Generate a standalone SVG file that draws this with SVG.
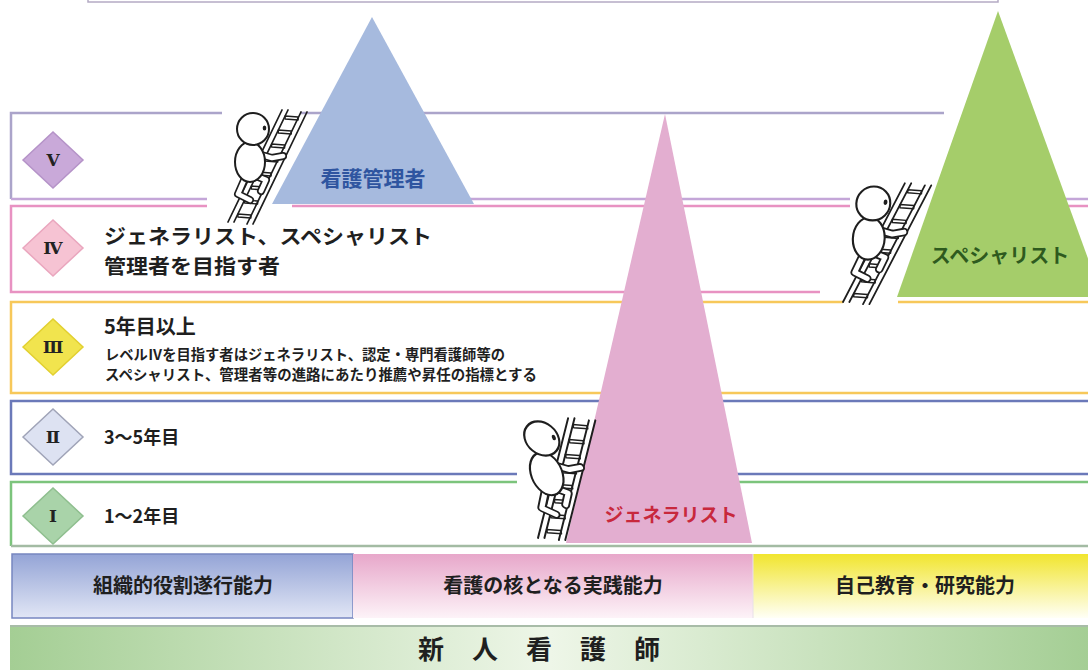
<svg xmlns="http://www.w3.org/2000/svg" width="1088" height="670" viewBox="0 0 1088 670">
  <defs>
    <style>
      .jp{font-family:"Noto Sans CJK JP","Noto Sans CJK SC",sans-serif;font-weight:700;fill:#1f1f1f}
      .rn{font-family:"DejaVu Serif","Liberation Serif","Noto Sans CJK JP",serif;font-weight:700;font-size:17px;fill:#222;text-anchor:middle}
      .mask{fill:#fff}
      .rail{stroke:#1e1e1e;stroke-width:1.7;fill:none;stroke-linecap:round}
      .rung{fill:#fff;stroke:#1e1e1e;stroke-width:1.4;stroke-linejoin:round}
      .limb-o{stroke:#1e1e1e;stroke-width:8;fill:none;stroke-linecap:round;stroke-linejoin:round}
      .limb-i{stroke:#fff;stroke-width:4.6;fill:none;stroke-linecap:round;stroke-linejoin:round}
      .solid{fill:#fff;stroke:#1e1e1e;stroke-width:2}
      .mid{text-anchor:middle}
    </style>
    <linearGradient id="gBlue" x1="0" y1="0" x2="0" y2="1">
      <stop offset="0" stop-color="#94a4d6"/>
      <stop offset="1" stop-color="#e1e6f5"/>
    </linearGradient>
    <linearGradient id="gPink" x1="0" y1="0" x2="0" y2="1">
      <stop offset="0" stop-color="#e7a7ca"/>
      <stop offset="1" stop-color="#fdf3f8"/>
    </linearGradient>
    <linearGradient id="gYellow" x1="0" y1="0" x2="0" y2="1">
      <stop offset="0" stop-color="#f1e52e"/>
      <stop offset="1" stop-color="#fffff6"/>
    </linearGradient>
    <linearGradient id="gGreen" x1="0" y1="0" x2="1" y2="0">
      <stop offset="0" stop-color="#a4ce94"/>
      <stop offset="0.5" stop-color="#eef6e8"/>
      <stop offset="1" stop-color="#a4ce94"/>
    </linearGradient>

    <!-- a figure climbing a ladder; origin = foot of the ladder -->
    <g id="climber">
      <!-- rungs -->
      <polygon class="rung" points="9.9,-8 22.9,-7 22.9,-4 9.9,-5"/>
      <polygon class="rung" points="16.6,-22 29.6,-21 29.6,-18 16.6,-19"/>
      <polygon class="rung" points="23.4,-36 36.4,-35 36.4,-32 23.4,-33"/>
      <polygon class="rung" points="30.1,-50 43.1,-49 43.1,-46 30.1,-47"/>
      <polygon class="rung" points="36.8,-64 49.8,-63 49.8,-60 36.8,-61"/>
      <polygon class="rung" points="43.6,-78 56.6,-77 56.6,-74 43.6,-75"/>
      <polygon class="rung" points="50.3,-92 63.3,-91 63.3,-88 50.3,-89"/>
      <polygon class="rung" points="57.1,-106 70.1,-105 70.1,-102 57.1,-103"/>
      <!-- rails -->
      <path class="rail" d="M0,0 L54,-112 M6,0 L60,-112 M19,2 L73,-110 M25,2 L79,-110"/>
      <!-- limbs -->
      <path class="limb-o" d="M17,-44 L10,-28 L22,-22 M28,-46 L38,-42 L33,-31 M30,-68 L44,-64 L55,-66"/>
      <path class="limb-i" d="M17,-44 L10,-28 L22,-22 M28,-46 L38,-42 L33,-31 M30,-68 L44,-64 L55,-66"/>
      <!-- body and head -->
      <ellipse class="solid" cx="22" cy="-60" rx="15" ry="20"/>
      <circle class="solid" cx="25" cy="-93" r="16"/>
      <ellipse cx="36.5" cy="-94" rx="1.8" ry="2.6" fill="#1e1e1e"/>
    </g>
  </defs>

  <rect width="1088" height="670" fill="#fff"/>

  <!-- frame above the chart -->
  <rect x="88" y="-10" width="910" height="12" fill="none" stroke="#b4aac4" stroke-width="1.5"/>

  <!-- level bands -->
  <g id="band-5">
    <path d="M944,113 H11 V199" fill="none" stroke="#aba4ca" stroke-width="2.5"/>
    <path d="M11,199 H1090" fill="none" stroke="#c4a6d8" stroke-width="2.5"/>
  </g>
  <g id="band-4">
    <rect x="11" y="206" width="1090" height="86" fill="none" stroke="#e892c2" stroke-width="2.5"/>
  </g>
  <g id="band-3">
    <rect x="11" y="302" width="1090" height="91" fill="none" stroke="#f7c85a" stroke-width="2.5"/>
  </g>
  <g id="band-2">
    <rect x="11" y="401" width="1090" height="73" fill="none" stroke="#6b79b9" stroke-width="2.5"/>
  </g>
  <g id="band-1">
    <path d="M1090,482 H11 V546" fill="none" stroke="#7cc47c" stroke-width="2.5"/>
    <path d="M11,546 H1090" fill="none" stroke="#a3bba3" stroke-width="2.5"/>
  </g>

  <!-- clear space around the climbers -->
  <polygon class="mask" points="227,104 300,104 300,190 292,190 292,214 207,214 207,190 222,190 222,104"/>
  <polygon class="mask" points="850,186 940,186 940,297 898,297 898,306 843,306 843,297 820,297 820,287 850,287"/>
  <rect class="mask" x="517" y="468" width="68" height="20"/>

  <!-- career peaks -->
  <g id="peak-manager">
    <polygon points="372,17 272,204 474,204" fill="#a6bade"/>
    <text class="jp mid" x="373" y="186" font-size="21" style="fill:#2f55a0">看護管理者</text>
  </g>
  <g id="peak-generalist">
    <polygon points="665,114 566,543 752,543" fill="#e3aed0"/>
    <text class="jp mid" x="671" y="522" font-size="19" style="fill:#c8283c">ジェネラリスト</text>
  </g>
  <g id="peak-specialist">
    <polygon points="998,11 897,297 1102,297" fill="#a5cd6a"/>
    <text class="jp mid" x="1000" y="263" font-size="20" style="fill:#2e5a1e">スペシャリスト</text>
  </g>

  <!-- climbers -->
  <g id="climber-manager"><use href="#climber" transform="translate(228,222)"/></g>
  <g id="climber-specialist"><use href="#climber" transform="translate(843,302) skewX(-2.2) scale(1.06)"/></g>
  <g id="climber-generalist"><use href="#climber" transform="translate(538,538) scale(1.07) skewX(13)"/></g>

  <!-- level markers -->
  <g id="level-5">
    <polygon points="23,160 53,132 83,160 53,188" fill="#c9a9d9" stroke="#b593c8" stroke-width="1.5"/>
    <text class="rn" x="53" y="166">V</text>
  </g>
  <g id="level-4">
    <polygon points="23,248 53,220 83,248 53,276" fill="#f6c3d3" stroke="#eaa6be" stroke-width="1.5"/>
    <text class="rn" x="53" y="254">Ⅳ</text>
    <text class="jp" x="104" y="244" font-size="20.5" textLength="328" lengthAdjust="spacingAndGlyphs">ジェネラリスト、スペシャリスト</text>
    <text class="jp" x="104" y="274" font-size="20.5" textLength="176" lengthAdjust="spacingAndGlyphs">管理者を目指す者</text>
  </g>
  <g id="level-3">
    <polygon points="23,347 53,319 83,347 53,375" fill="#f1e44e" stroke="#e2d030" stroke-width="1.5"/>
    <text class="rn" x="53" y="353">Ⅲ</text>
    <text class="jp" x="104" y="334" font-size="20">5年目以上</text>
    <text class="jp" font-size="14.4"><tspan x="105" y="360" textLength="400" lengthAdjust="spacingAndGlyphs">レベルⅣを目指す者はジェネラリスト、認定・専門看護師等の</tspan><tspan x="105" y="380" textLength="432" lengthAdjust="spacingAndGlyphs">スペシャリスト、管理者等の進路にあたり推薦や昇任の指標とする</tspan></text>
  </g>
  <g id="level-2">
    <polygon points="23,437 53,409 83,437 53,465" fill="#dde2f2" stroke="#a0a4b8" stroke-width="1.5"/>
    <text class="rn" x="53" y="443">Ⅱ</text>
    <text class="jp" x="104" y="444" font-size="18">3〜5年目</text>
  </g>
  <g id="level-1">
    <polygon points="23,516 53,488 83,516 53,544" fill="#a9d3a9" stroke="#8fbf8f" stroke-width="1.5"/>
    <text class="rn" x="53" y="522">Ⅰ</text>
    <text class="jp" x="104" y="523" font-size="18">1〜2年目</text>
  </g>

  <!-- competency areas -->
  <g id="area-organisation">
    <rect x="12" y="554" width="341" height="64" fill="url(#gBlue)" stroke="#7786c0" stroke-width="1.5"/>
    <text class="jp mid" x="183" y="593" font-size="20">組織的役割遂行能力</text>
  </g>
  <g id="area-practice">
    <rect x="353" y="554" width="400" height="64" fill="url(#gPink)"/>
    <text class="jp mid" x="553" y="593" font-size="20">看護の核となる実践能力</text>
  </g>
  <g id="area-research">
    <rect x="753" y="554" width="335" height="64" fill="url(#gYellow)"/>
    <line x1="753" y1="554" x2="753" y2="618" stroke="#e8e0e8" stroke-width="1"/>
    <text class="jp mid" x="925" y="593" font-size="20">自己教育・研究能力</text>
  </g>

  <!-- base -->
  <g id="base-newcomer">
    <rect x="10" y="626" width="1080" height="46" fill="url(#gGreen)"/>
    <line x1="10" y1="626" x2="1088" y2="626" stroke="#a8bca8" stroke-width="2"/>
    <text class="jp mid" x="553" y="659" font-size="26" letter-spacing="28">新人看護師</text>
  </g>
</svg>
